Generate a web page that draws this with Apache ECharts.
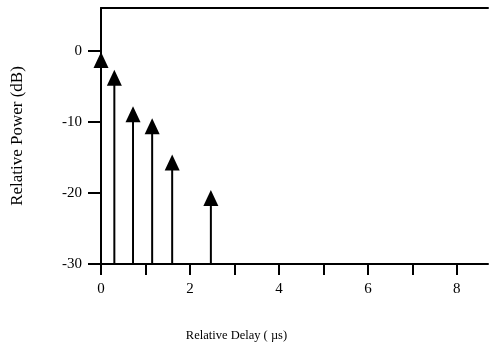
<!DOCTYPE html>
<html>
<head>
<meta charset="utf-8">
<script src="https://cdn.jsdelivr.net/npm/echarts@6/dist/echarts.min.js"></script>
<style>
    html, body { margin: 0; padding: 0; background: #fff; }
    #chart { width: 489px; height: 349px; }
</style>
</head>
<body>
<div id="chart"></div>
<script>
    // delay (us) and relative power (dB) of each path
    var delays = [0, 0.3, 0.72, 1.15, 1.6, 2.47];
    var powers = [-0.2, -2.7, -7.8, -9.5, -14.6, -19.6];

    var xTicks = [0, 1, 2, 3, 4, 5, 6, 7, 8];
    var xLabels = [0, 2, 4, 6, 8];
    var yTicks = [-30, -20, -10, 0];

    var yMin = -30;
    var font = '"Liberation Serif", "DejaVu Serif", serif';

    var points = delays.map(function (d, i) { return [d, powers[i]]; });

    var chart = echarts.init(document.getElementById('chart'));
    chart.setOption({
        animation: false,
        backgroundColor: '#fff',
        grid: {left: 101, right: 1, top: 8, bottom: 85, outerBoundsMode: 'none'},
        xAxis: [{
            type: 'value',
            min: 0,
            max: 8.7,
            name: 'Relative Delay ( \u00b5s)',
            nameLocation: 'middle',
            nameGap: 65,
            nameTextStyle: {fontFamily: font, fontSize: 12.5, color: '#000', padding: [0, 116, 0, 0]},
            axisLine: {show: true, onZero: false, lineStyle: {color: '#000', width: 2}},
            axisTick: {show: true, length: 11, lineStyle: {color: '#000', width: 2}, customValues: xTicks},
            axisLabel: {fontFamily: font, fontSize: 15, color: '#000', margin: 18, customValues: xLabels},
            splitLine: {show: false}
        }, {
            // top border of the frame
            type: 'value',
            position: 'top',
            min: 0,
            max: 8.7,
            axisLine: {show: true, onZero: false, lineStyle: {color: '#000', width: 2}},
            axisTick: {show: false},
            axisLabel: {show: false},
            splitLine: {show: false}
        }],
        yAxis: {
            type: 'value',
            min: yMin,
            max: 6,
            name: 'Relative Power (dB)',
            nameLocation: 'middle',
            nameGap: 75,
            nameTextStyle: {fontFamily: font, fontSize: 17, color: '#000'},
            axisLine: {show: true, onZero: false, lineStyle: {color: '#000', width: 2}},
            axisTick: {show: true, length: 13, lineStyle: {color: '#000', width: 2}, customValues: yTicks},
            axisLabel: {
                fontFamily: font, fontSize: 15, color: '#000', margin: 19, customValues: yTicks,
                formatter: function (v) { return v < 0 ? '-' + (-v) : String(v); }
            },
            splitLine: {show: false}
        },
        series: [{
            type: 'custom',
            data: points,
            renderItem: function (params, api) {
                var tip = api.coord([api.value(0), api.value(1)]);
                var base = api.coord([api.value(0), yMin]);
                return {
                    type: 'group',
                    children: [{
                        type: 'line',
                        shape: {x1: tip[0], y1: tip[1] + 14, x2: base[0], y2: base[1]},
                        style: {stroke: '#000', lineWidth: 2}
                    }, {
                        type: 'polygon',
                        shape: {points: [[tip[0], tip[1]], [tip[0] - 7.5, tip[1] + 16], [tip[0] + 7.5, tip[1] + 16]]},
                        style: {fill: '#000'}
                    }]
                };
            }
        }]
    });
</script>
</body>
</html>
